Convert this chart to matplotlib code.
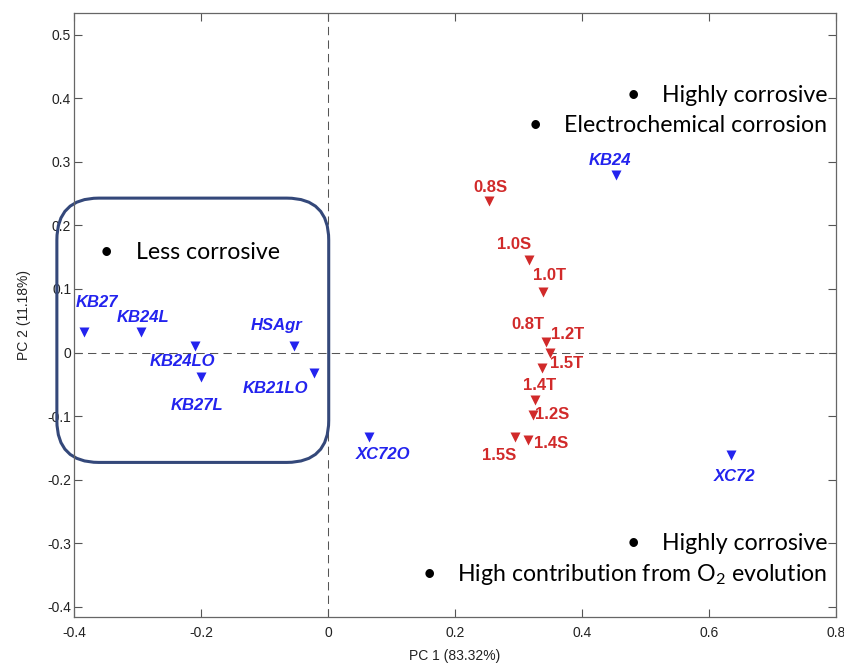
import numpy as np
import matplotlib
matplotlib.use('Agg')
import matplotlib.pyplot as plt
from matplotlib.patches import FancyBboxPatch

# PCA scores, carbon supports (blue)
blue_names = ['KB27', 'KB24L', 'KB24LO', 'KB27L', 'HSAgr', 'KB21LO', 'XC72O', 'KB24', 'XC72']
blue_pc1 = [-0.385, -0.294, -0.209, -0.200, -0.054, -0.022, 0.064, 0.454, 0.634]
blue_pc2 = [0.033, 0.033, 0.011, -0.039, 0.011, -0.032, -0.133, 0.280, -0.162]

# PCA scores, treated samples (red)
red_names = ['0.8S', '1.0S', '1.0T', '0.8T', '1.2T', '1.5T', '1.4T', '1.2S', '1.4S', '1.5S']
red_pc1 = [0.253, 0.317, 0.338, 0.343, 0.349, 0.337, 0.326, 0.323, 0.314, 0.294]
red_pc2 = [0.239, 0.146, 0.096, 0.017, 0.000, -0.025, -0.074, -0.098, -0.138, -0.133]

# label offsets in pixels (dx, dy), only for layout
blue_offs = [(13, 29), (2, 14), (-13, -16), (-4, -28), (-17, 20), (-39, -16), (14, -17), (-6, 14), (4, -21)]
red_offs = [(2, 13), (-15, 15), (7, 16), (-18, 17), (18, 18), (24, 5), (4, 14), (19, 0), (24, -3), (-16, -18)]

BLUE = '#2323EE'
RED = '#D12A2A'
GREY = '#555555'

plt.rcParams['font.family'] = 'Liberation Sans'
plt.rcParams['mathtext.fontset'] = 'custom'
plt.rcParams['mathtext.rm'] = 'Lato'

fig = plt.figure(figsize=(8.45, 6.63), dpi=100)
ax = fig.add_axes([0.0876, 0.069, 0.902, 0.912])

ax.axhline(0, color=GREY, lw=0.75, ls=(0, (8, 5)), zorder=1)
ax.axvline(0, color=GREY, lw=0.75, ls=(0, (8, 5)), zorder=1)

ax.plot(blue_pc1, blue_pc2, 'v', color=BLUE, ms=7.5, mec='none', zorder=3)
ax.plot(red_pc1, red_pc2, 'v', color=RED, ms=7.5, mec='none', zorder=3)

for name, x, y, off in zip(blue_names, blue_pc1, blue_pc2, blue_offs):
    ax.annotate(name, (x, y), xytext=off, textcoords='offset pixels', ha='center', va='center',
                color=BLUE, fontsize=12, fontweight='bold', fontstyle='italic')
for name, x, y, off in zip(red_names, red_pc1, red_pc2, red_offs):
    ax.annotate(name, (x, y), xytext=off, textcoords='offset pixels', ha='center', va='center',
                color=RED, fontsize=12, fontweight='bold')

ax.set_xlim(-0.4, 0.8)
ax.set_ylim(-0.4167, 0.535)
ax.set_xticks([-0.4, -0.2, 0, 0.2, 0.4, 0.6, 0.8])
ax.set_xticklabels(['-0.4', '-0.2', '0', '0.2', '0.4', '0.6', '0.8'])
ax.set_yticks(np.arange(-0.4, 0.51, 0.1))
ax.set_yticklabels(['-0.4', '-0.3', '-0.2', '-0.1', '0', '0.1', '0.2', '0.3', '0.4', '0.5'])
ax.tick_params(direction='in', length=6, width=0.8, color=GREY, labelsize=10, labelcolor='#222222',
               top=True, right=True)
ax.tick_params(axis='x', pad=6)
ax.tick_params(axis='y', pad=2)
for s in ax.spines.values():
    s.set_color('#666666')
    s.set_linewidth(0.9)

ax.set_xlabel('PC 1 (83.32%)', fontsize=10, color='#222222', labelpad=7)
ax.set_ylabel('PC 2 (11.18%)', fontsize=10, color='#222222', labelpad=12)

# highlight box around less corrosive supports
box = FancyBboxPatch((-0.427, -0.173), 0.428, 0.416, boxstyle='round,pad=0,rounding_size=0.066',
                     fc='none', ec='#34487A', lw=2.2, clip_on=False, zorder=2, mutation_aspect=1.0)
ax.add_patch(box)

notes = [
    (-0.349, -0.303, 0.158, 'Less corrosive'),
    (0.481, 0.525, 0.404, 'Highly corrosive'),
    (0.327, 0.371, 0.357, 'Electrochemical corrosion'),
    (0.480, 0.525, -0.301, 'Highly corrosive'),
    (0.160, 0.203, -0.349, r'High contribution from O$_2$ evolution'),
]
for bx, tx, ty, txt in notes:
    ax.text(bx, ty, '\u2022', ha='center', va='center', fontsize=16.7, family='Lato', color='black')
    ax.text(tx, ty, txt, ha='left', va='center', fontsize=16.7, family='Lato', color='black')

fig.savefig('out.png', dpi=100)
